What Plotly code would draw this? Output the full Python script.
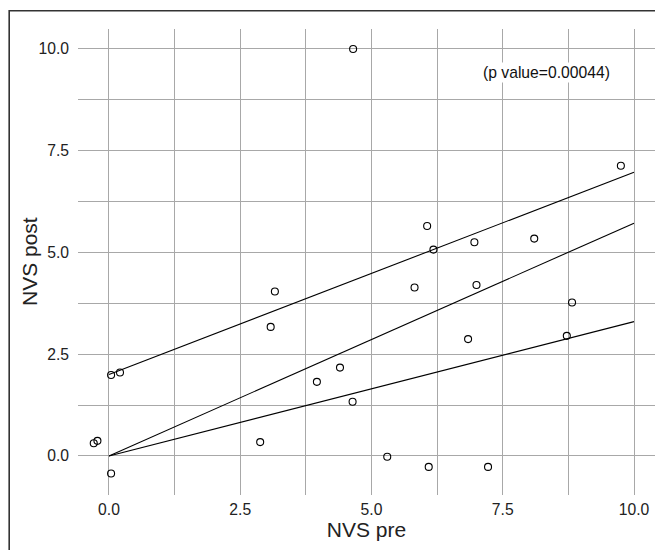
import plotly.graph_objects as go

nvs_pre = [4.65, 9.75, 6.06, 6.18, 6.96, 8.10, 3.16, 5.82, 7.00, 8.82, 3.08, 6.84, 8.72,
           0.04, 0.21, 4.40, 3.96, 4.64, -0.29, -0.22, 2.88, 5.30, 0.04, 6.09, 7.22]
nvs_post = [10.0, 7.13, 5.65, 5.07, 5.25, 5.34, 4.04, 4.14, 4.20, 3.77, 3.17, 2.87, 2.95,
            1.99, 2.05, 2.17, 1.82, 1.33, 0.31, 0.37, 0.34, -0.02, -0.43, -0.27, -0.27]

line_x = [0, 10]
upper_line = [2.0, 6.97]
middle_line = [0.0, 5.72]
lower_line = [0.0, 3.30]

x_ticks = [0, 2.5, 5, 7.5, 10]
x_tick_labels = ["0.0", "2.5", "5.0", "7.5", "10.0"]
y_ticks = [0, 2.5, 5, 7.5, 10]
y_tick_labels = ["0.0", "2.5", "5.0", "7.5", "10.0"]
minor_ticks = [1.25, 3.75, 6.25, 8.75]

annotation_text = "(p value=0.00044)"
x_title = "NVS pre"
y_title = "NVS post"

fig = go.Figure()

for ys in (upper_line, middle_line, lower_line):
    fig.add_trace(go.Scatter(x=line_x, y=ys, mode="lines",
                             line=dict(color="black", width=1.1),
                             showlegend=False, hoverinfo="skip"))

fig.add_trace(go.Scatter(x=nvs_pre, y=nvs_post, mode="markers",
                         marker=dict(symbol="circle-open", size=7,
                                     color="black", line=dict(width=1.1)),
                         showlegend=False))

font_family = "Liberation Sans, Arial, sans-serif"

fig.add_annotation(x=8.34, y=9.42, text=annotation_text, showarrow=False,
                   font=dict(family=font_family, size=15.7, color="#111"),
                   bgcolor="white")

# The page body adds an 8px offset, so the figure is 8px smaller and shifted.
W, H = 655, 542
L, R, T, B = 70, 8, 21, 55
pw, ph = W - L - R, H - T - B

fig.add_annotation(xref="paper", yref="paper", x=(21 - L) / pw, y=0.5,
                   text=y_title, textangle=-90, showarrow=False,
                   xanchor="center", yanchor="middle",
                   font=dict(family=font_family, size=21, color="#222"))

fig.update_xaxes(range=[-0.59, 10.4], tickvals=x_ticks, ticktext=x_tick_labels,
                 showgrid=True, gridcolor="#a8a8a8", gridwidth=1.3,
                 minor=dict(tickvals=minor_ticks, showgrid=True,
                            gridcolor="#a8a8a8", gridwidth=1.3),
                 zeroline=False, showline=False, ticks="",
                 ticklabelstandoff=3, automargin=False,
                 tickfont=dict(family=font_family, size=15.7, color="#222"),
                 title=dict(text=x_title, standoff=4,
                            font=dict(family=font_family, size=21, color="#222")))
fig.update_yaxes(range=[-0.96, 10.49], tickvals=y_ticks, ticktext=y_tick_labels,
                 showgrid=True, gridcolor="#a8a8a8", gridwidth=1.3,
                 minor=dict(tickvals=minor_ticks, showgrid=True,
                            gridcolor="#a8a8a8", gridwidth=1.3),
                 zeroline=False, showline=False, ticks="",
                 ticklabelstandoff=8, automargin=False,
                 tickfont=dict(family=font_family, size=15.7, color="#222"))

# outer frame: left edge at x=1, top edge at y=2.7 (figure pixels), extends past right/bottom
fig.add_shape(type="rect", xref="paper", yref="paper",
              x0=(1.2 - L) / pw, x1=(W + 5 - L) / pw,
              y0=-(H + 5 - T - ph) / ph, y1=(ph + T - 2.7) / ph,
              line=dict(color="#333", width=1.6), fillcolor="rgba(0,0,0,0)")

fig.update_layout(width=W, height=H, margin=dict(l=L, r=R, t=T, b=B),
                  plot_bgcolor="white", paper_bgcolor="white",
                  showlegend=False)

fig.write_html("out.html")
